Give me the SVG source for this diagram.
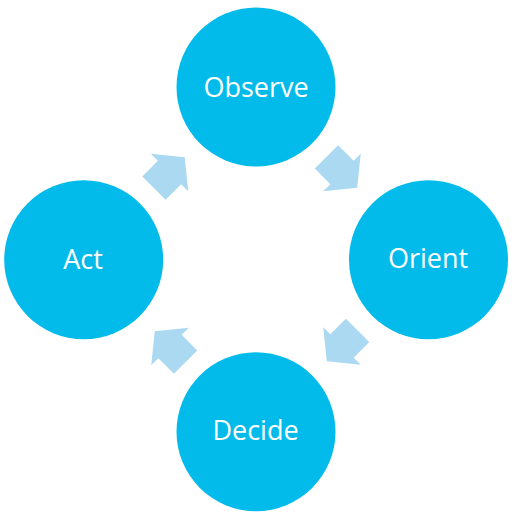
<svg xmlns="http://www.w3.org/2000/svg" width="514" height="518" viewBox="0 0 514 518">
  <style>
    .node { fill: #03BBEA; }
    .label { fill: #FFFFFF; font-family: "Open Sans", "Liberation Sans", sans-serif; font-size: 27px; text-anchor: middle; }
    .arrow { fill: #AAD9F1; }
  </style>
  <defs>
    <polygon id="blockArrow" points="-22,-16.5 0,-16.5 0,-26.5 21.5,0 0,26.5 0,16.5 -22,16.5"/>
  </defs>
  <rect width="514" height="518" fill="#FFFFFF"/>
  <g id="connectors">
    <use href="#blockArrow" class="arrow" transform="translate(342,172.5) rotate(45)"/>
    <use href="#blockArrow" class="arrow" transform="translate(342,346) rotate(135)"/>
    <use href="#blockArrow" class="arrow" transform="translate(170,346.5) rotate(225)"/>
    <use href="#blockArrow" class="arrow" transform="translate(169.5,172.5) rotate(315)"/>
  </g>
  <g id="observe">
    <circle class="node" cx="256" cy="87" r="79.5"/>
    <text class="label" x="256" y="96.5">Observe</text>
  </g>
  <g id="orient">
    <circle class="node" cx="428.5" cy="259.7" r="79.5"/>
    <text class="label" x="428" y="268">Orient</text>
  </g>
  <g id="decide">
    <circle class="node" cx="256" cy="431.7" r="79.5"/>
    <text class="label" x="255.5" y="440.3">Decide</text>
  </g>
  <g id="act">
    <circle class="node" cx="83.7" cy="259.7" r="79.5"/>
    <text class="label" x="83" y="268.7">Act</text>
  </g>
</svg>
